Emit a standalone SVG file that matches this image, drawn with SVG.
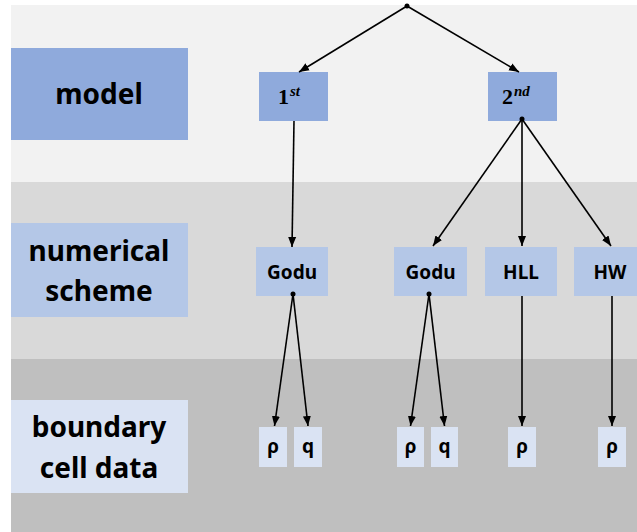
<svg xmlns="http://www.w3.org/2000/svg" width="637" height="532" viewBox="0 0 637 532">
<defs>
<style>
.lbl{font-family:"Noto Sans","Open Sans",sans-serif;font-weight:bold;font-size:28px;fill:#000;text-anchor:middle}
.nt{font-family:"Noto Sans","Open Sans",sans-serif;font-weight:bold;font-size:19px;fill:#000;text-anchor:middle}
.m{font-family:"Liberation Serif","DejaVu Serif",serif;font-weight:bold;fill:#000}
.c1{fill:#8faadc}
.c2{fill:#b4c7e7}
.c3{fill:#dae3f3}
.ln{stroke:#000;stroke-width:1.6;fill:none;marker-end:url(#ah)}
</style>
<marker id="ah" markerUnits="userSpaceOnUse" markerWidth="10" markerHeight="10" viewBox="0 0 10 10" refX="10" refY="5" orient="auto">
<path d="M0,1 L10,5 L0,9 z" fill="#000"/>
</marker>
</defs>
<rect x="0" y="0" width="637" height="532" fill="#ffffff"/>
<rect x="11" y="5" width="626" height="177" fill="#f2f2f2"/>
<rect x="11" y="182" width="626" height="177" fill="#d9d9d9"/>
<rect x="11" y="359" width="626" height="173" fill="#bfbfbf"/>

<g id="label-model"><rect class="c1" x="11" y="48" width="177" height="92"/><text class="lbl" x="99" y="104">model</text></g>
<g id="label-scheme"><rect class="c2" x="11" y="223" width="177" height="94"/><text class="lbl" x="99" y="261">numerical</text><text class="lbl" x="99" y="301">scheme</text></g>
<g id="label-boundary"><rect class="c3" x="11" y="400" width="177" height="93"/><text class="lbl" x="99" y="437">boundary</text><text class="lbl" x="99" y="478">cell data</text></g>

<g id="n-1st"><rect class="c1" x="259" y="72" width="69" height="49"/><text class="m" x="278" y="104" font-size="22">1</text><text class="m" x="290" y="96" font-size="15" font-style="italic">st</text></g>
<g id="n-2nd"><rect class="c1" x="488" y="72" width="69" height="49"/><text class="m" x="502" y="104" font-size="22">2</text><text class="m" x="514" y="96" font-size="15" font-style="italic">nd</text></g>

<g id="n-godu1"><rect class="c2" x="256" y="247" width="72" height="49"/><text class="nt" x="292" y="279">Godu</text></g>
<g id="n-godu2"><rect class="c2" x="394" y="247" width="73" height="49"/><text class="nt" x="430.5" y="279">Godu</text></g>
<g id="n-hll"><rect class="c2" x="485" y="247" width="72" height="49"/><text class="nt" x="521" y="279">HLL</text></g>
<g id="n-hw"><rect class="c2" x="574" y="247" width="72" height="49"/><text class="nt" x="610" y="279">HW</text></g>

<g id="n-rho1"><rect class="c3" x="259" y="427" width="28" height="40"/><text class="nt" x="273" y="453">ρ</text></g>
<g id="n-q1"><rect class="c3" x="294" y="427" width="28" height="40"/><text class="nt" x="308" y="453">q</text></g>
<g id="n-rho2"><rect class="c3" x="397" y="427" width="27" height="40"/><text class="nt" x="410.5" y="453">ρ</text></g>
<g id="n-q2"><rect class="c3" x="431" y="427" width="27" height="40"/><text class="nt" x="444.5" y="453">q</text></g>
<g id="n-rho3"><rect class="c3" x="508" y="427" width="28" height="40"/><text class="nt" x="522" y="453">ρ</text></g>
<g id="n-rho4"><rect class="c3" x="598" y="427" width="28" height="40"/><text class="nt" x="612" y="453">ρ</text></g>

<g id="connectors">
<circle cx="407" cy="6" r="2.5" fill="#000"/>
<circle cx="522" cy="119" r="2.5" fill="#000"/>
<circle cx="293" cy="294" r="2.5" fill="#000"/>
<circle cx="429" cy="294" r="2.5" fill="#000"/>
<line class="ln" x1="407" y1="6" x2="299" y2="72"/>
<line class="ln" x1="407" y1="6" x2="519" y2="72"/>
<line class="ln" x1="294" y1="121" x2="292" y2="247"/>
<line class="ln" x1="522" y1="119" x2="433" y2="246"/>
<line class="ln" x1="522" y1="119" x2="522" y2="246"/>
<line class="ln" x1="522" y1="119" x2="611" y2="246"/>
<line class="ln" x1="293" y1="294" x2="274.5" y2="426"/>
<line class="ln" x1="293" y1="294" x2="308" y2="426"/>
<line class="ln" x1="429" y1="294" x2="410.5" y2="426"/>
<line class="ln" x1="429" y1="294" x2="444.5" y2="426"/>
<line class="ln" x1="522" y1="296" x2="522" y2="426"/>
<line class="ln" x1="612" y1="296" x2="612" y2="426"/>
</g>
</svg>
